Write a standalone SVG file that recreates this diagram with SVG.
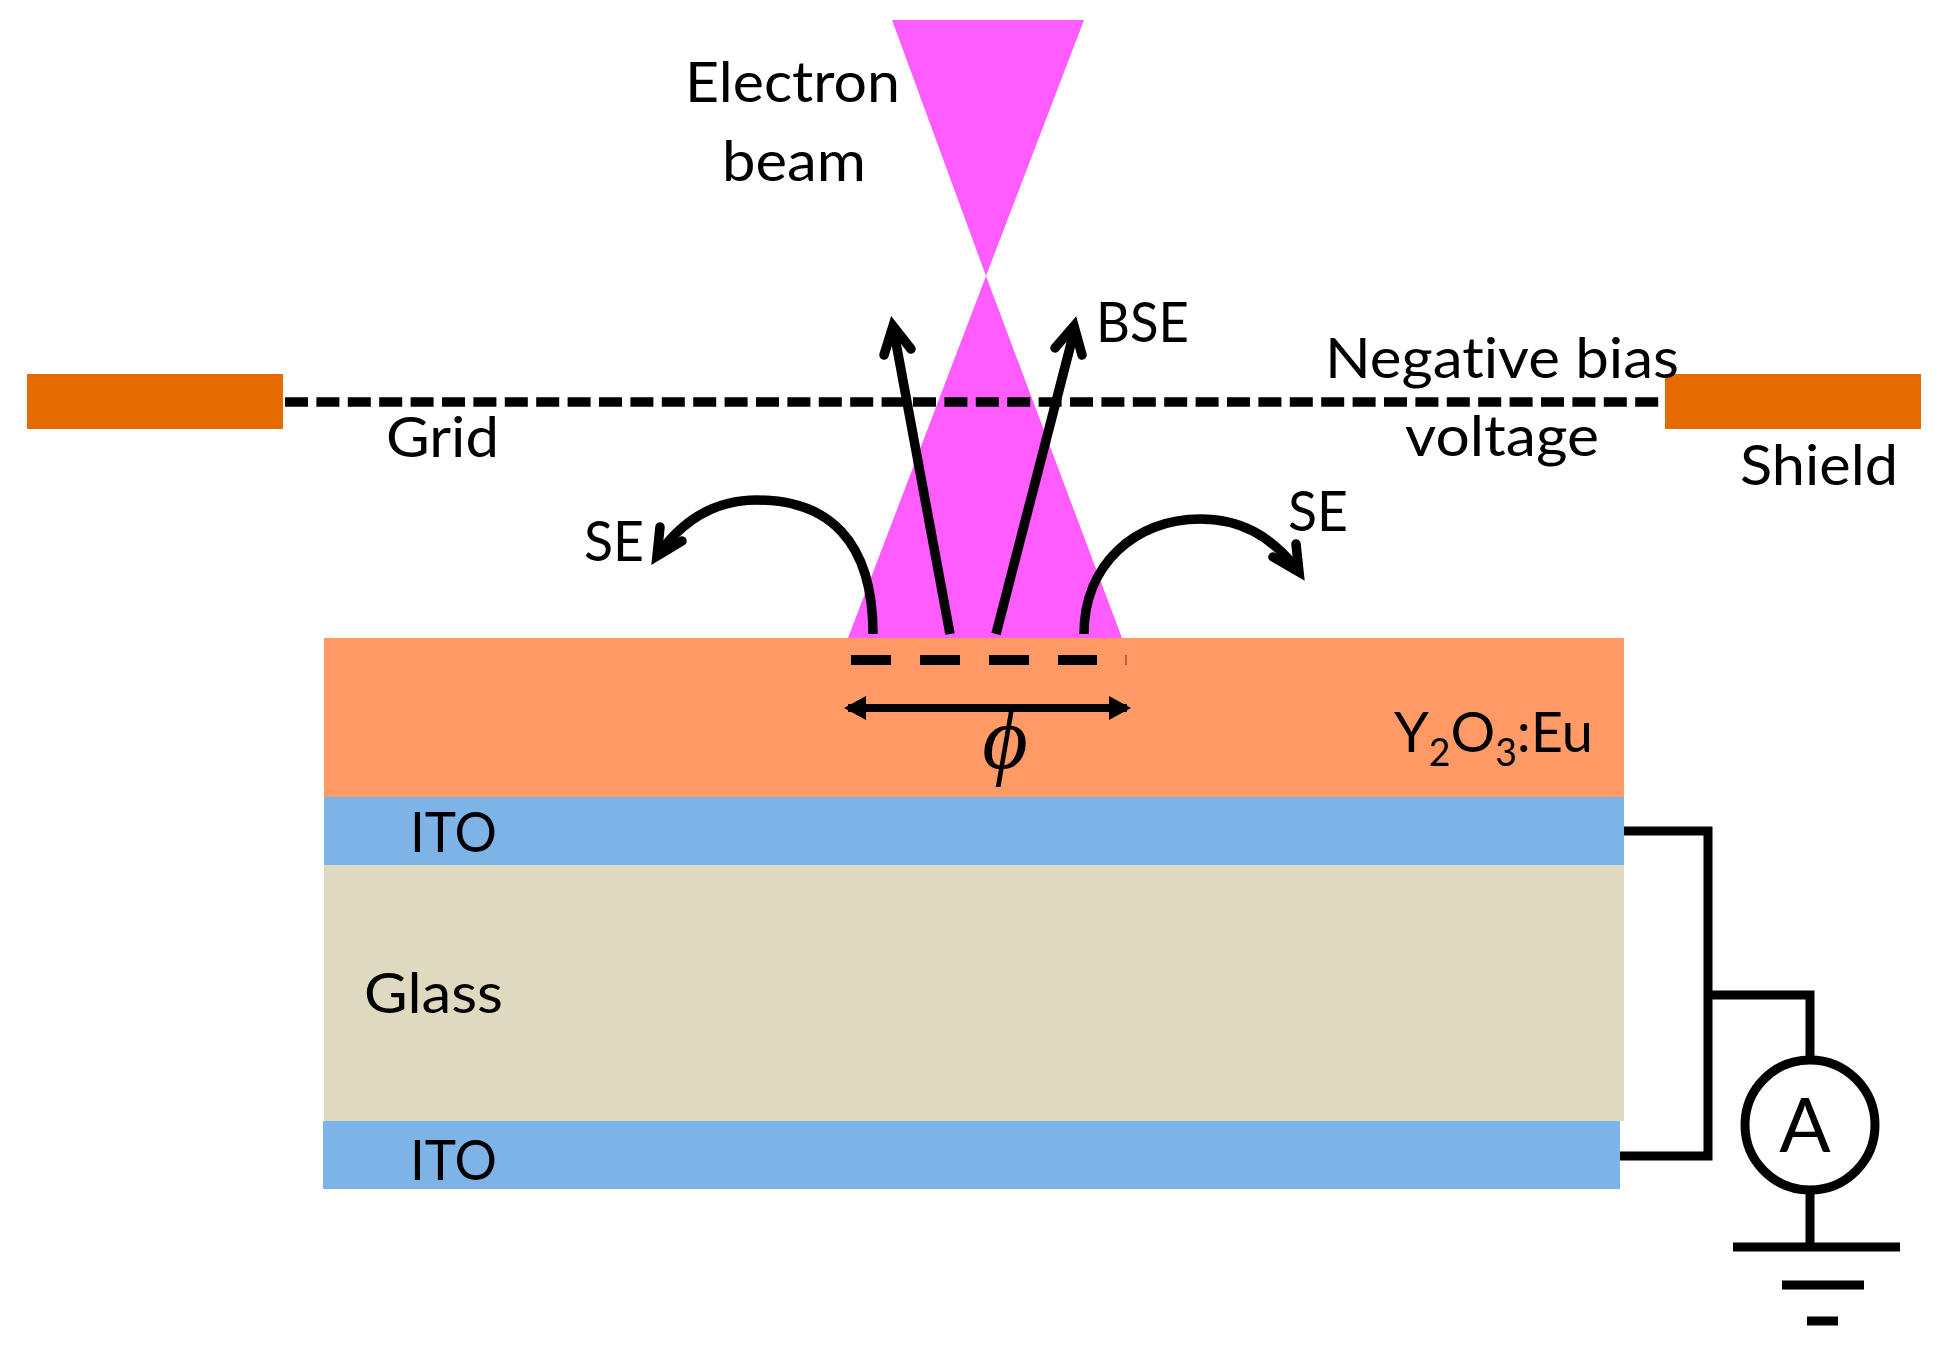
<svg xmlns="http://www.w3.org/2000/svg" width="1938" height="1352" viewBox="0 0 1938 1352">
<style>
text{font-family:Lato,"Liberation Sans",sans-serif;font-size:57px;fill:#000;font-variant-ligatures:none}
.w{fill:none;stroke:#000;stroke-width:9}
.a{fill:none;stroke:#000;stroke-width:9.5}
.h{fill:none;stroke:#000;stroke-width:9.5;stroke-linecap:round;stroke-linejoin:miter;stroke-miterlimit:10}
.s{font-size:38px}
</style>
<rect width="1938" height="1352" fill="#fff"/>
<g id="beam"><polygon points="892,20 1084,20 986,276" fill="#ff5cff"/><polygon points="986,276 1122,638 848,638" fill="#ff5cff"/></g>
<g id="layer-phosphor"><rect x="324" y="638" width="1300" height="159" fill="#ff9a66"/><text x="1394" y="752" textLength="199" lengthAdjust="spacingAndGlyphs">Y<tspan class="s" dy="14">2</tspan><tspan dy="-14">O</tspan><tspan class="s" dy="14">3</tspan><tspan dy="-14">:Eu</tspan></text></g>
<g id="layer-ito-top"><rect x="324" y="797" width="1300" height="68" fill="#7db3e6"/><text x="410" y="852" textLength="87" lengthAdjust="spacingAndGlyphs">ITO</text></g>
<g id="layer-glass"><rect x="324" y="865" width="1300" height="256" fill="#dfd9c0"/><text x="364" y="1013" textLength="139" lengthAdjust="spacingAndGlyphs">Glass</text></g>
<g id="layer-ito-bottom"><rect x="323" y="1121" width="1297" height="68" fill="#7db3e6"/><text x="410" y="1180" textLength="87" lengthAdjust="spacingAndGlyphs">ITO</text></g>
<g id="shield-left"><rect x="27" y="374" width="256" height="55" fill="#e56a00"/></g>
<g id="shield-right"><rect x="1665" y="374" width="256" height="55" fill="#e56a00"/><text x="1740" y="485" textLength="158" lengthAdjust="spacingAndGlyphs">Shield</text></g>
<g id="ammeter"><circle cx="1810" cy="1125" r="65" fill="#fff" stroke="#000" stroke-width="9"/><text x="1805" y="1152" text-anchor="middle" style="font-size:76px">A</text></g>
<g id="labels">
<text x="685" y="102" textLength="215" lengthAdjust="spacingAndGlyphs">Electron</text>
<text x="722" y="181" textLength="144" lengthAdjust="spacingAndGlyphs">beam</text>
<text x="1096" y="342" textLength="93" lengthAdjust="spacingAndGlyphs">BSE</text>
<text x="1325" y="378" textLength="354" lengthAdjust="spacingAndGlyphs">Negative bias</text>
<text x="1405" y="456" textLength="194" lengthAdjust="spacingAndGlyphs">voltage</text>
<text x="386" y="457" textLength="113" lengthAdjust="spacingAndGlyphs">Grid</text>
<text x="584" y="561" textLength="60" lengthAdjust="spacingAndGlyphs">SE</text>
<text x="1288" y="531" textLength="60" lengthAdjust="spacingAndGlyphs">SE</text>
<text x="1005" y="768" text-anchor="middle" style="font-family:'Liberation Serif',serif;font-style:italic;font-size:88px">ϕ</text>
</g>
<g id="connectors">
<path d="M285 402H1665" fill="none" stroke="#000" stroke-width="9.5" stroke-dasharray="23 8.4"/>
<path d="M851 660H1097" fill="none" stroke="#000" stroke-width="10" stroke-dasharray="40 29"/>
<path d="M1126 655V665" fill="none" stroke="#a05020" stroke-width="1.5"/>
<path class="a" d="M950 634L894 332"/><path class="h" d="M884 355L893 326L911 349"/>
<path class="a" d="M996 634L1074 332"/><path class="h" d="M1055 348L1074 326L1082 355"/>
<path class="a" d="M873 634C873 540 828 500 757 500C718 500 685 518 660 552"/><path class="h" d="M660 527L657 556L682 541"/>
<path class="a" d="M1084 634C1084 565 1135 519 1200 519C1240 519 1270 535 1297 569"/><path class="h" d="M1273 557L1299 572L1296 544"/>
<path d="M848 708H1127" fill="none" stroke="#000" stroke-width="8"/>
<polygon points="844,708 866,696 866,720"/><polygon points="1131,708 1109,696 1109,720"/>
<path class="w" d="M1624 831H1708V1156H1620"/>
<path class="w" d="M1708 995H1810V1060"/>
<path class="w" d="M1810 1190V1247"/>
<path class="w" d="M1733 1247H1900M1782 1285H1864M1807 1321H1838"/>
</g>
</svg>
